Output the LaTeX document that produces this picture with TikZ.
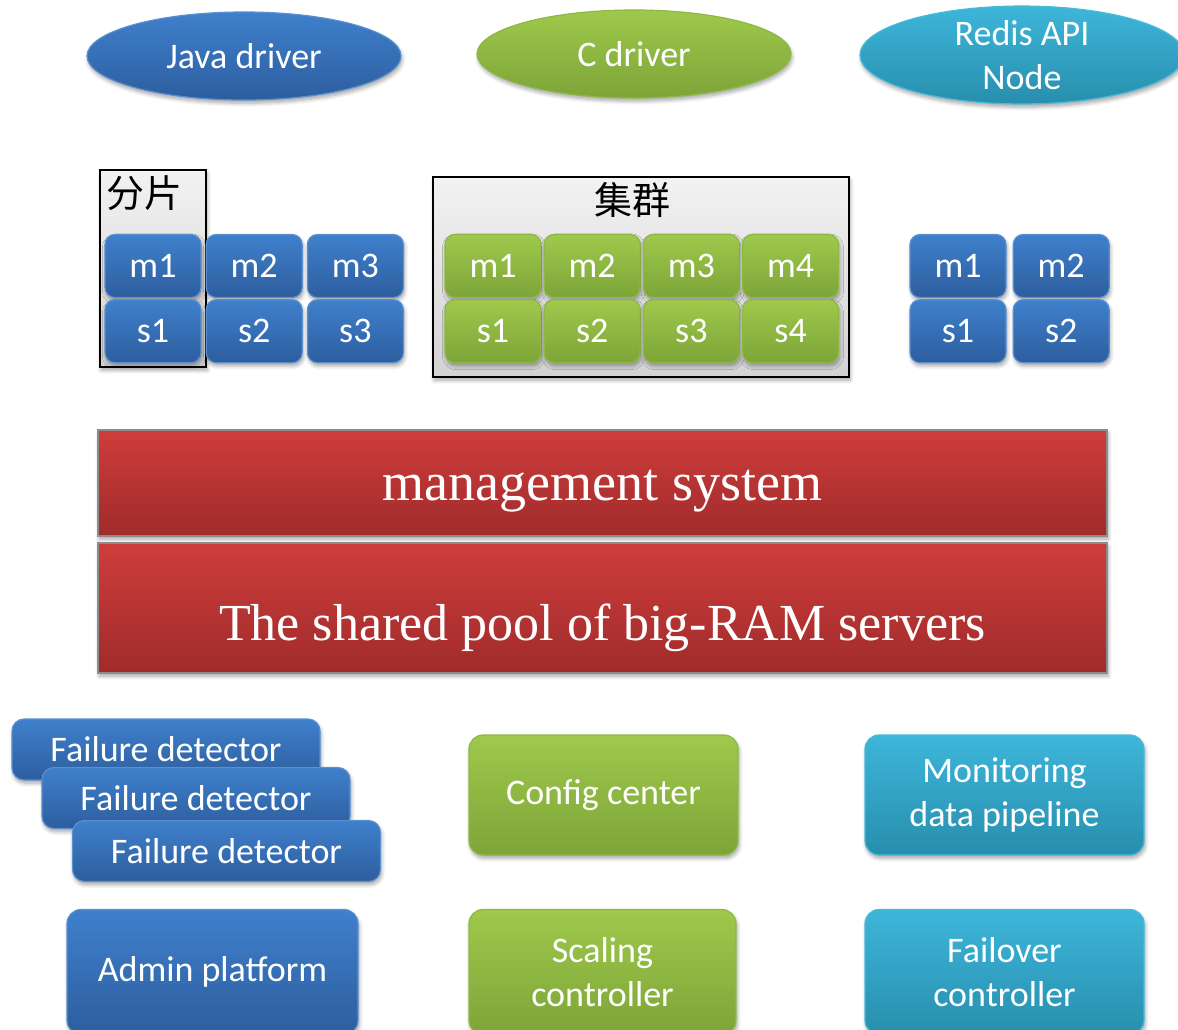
\documentclass[tikz,border=0pt]{standalone}
\usepackage{fontspec}
\setmainfont{Carlito}
\newfontfamily\cjkfont{Noto Sans CJK SC}
\newfontfamily\barfont{Liberation Serif}
\usepackage{tikz}
\usetikzlibrary{positioning,shapes.geometric,shadows.blur}

\definecolor{bluetop}{HTML}{3F80CC}
\definecolor{bluebot}{HTML}{2D5E9E}
\definecolor{blueline}{HTML}{5A8FD0}
\definecolor{greentop}{HTML}{9FC94C}
\definecolor{greenbot}{HTML}{7DA438}
\definecolor{greenline}{HTML}{8EB846}
\definecolor{tealtop}{HTML}{3DB6DA}
\definecolor{tealbot}{HTML}{288EAD}
\definecolor{tealline}{HTML}{4BB9D9}
\definecolor{redtop}{HTML}{CE3D3B}
\definecolor{redbot}{HTML}{A02B2B}
\definecolor{frametop}{HTML}{F2F2F2}
\definecolor{framebot}{HTML}{D2D2D2}

\begin{document}
\begin{tikzpicture}[
  x=0.5pt, y=-0.5pt,
  font=\fontsize{18}{22}\selectfont,
  soft/.style={blur shadow={shadow xshift=0.6pt, shadow yshift=-1.6pt, shadow blur steps=6, shadow opacity=35}},
  bluefill/.style={top color=bluetop, bottom color=bluebot, draw=blueline},
  greenfill/.style={top color=greentop, bottom color=greenbot, draw=greenline},
  tealfill/.style={top color=tealtop, bottom color=tealbot, draw=tealline},
  cell/.style={soft, rounded corners=5pt, minimum width=48pt, minimum height=31.5pt, inner sep=0pt, line width=0.6pt, text=white},
  drv/.style={soft, ellipse, minimum width=157pt, minimum height=44pt, inner sep=0pt, align=center, line width=0.6pt, text=white},
  panel/.style={soft, rounded corners=7pt, minimum height=60pt, inner sep=0pt, align=center, line width=0.6pt, text=white},
  bar/.style={soft, draw=gray!90, line width=0.8pt, top color=redtop, bottom color=redbot, minimum width=504.5pt, inner sep=0pt, text=white, font=\barfont},
  frame/.style={soft, draw=black, line width=1pt, top color=frametop, bottom color=framebot, inner sep=0pt},
  tag/.style={font=\fontsize{19}{22}\selectfont\cjkfont, text=black, inner sep=0pt}
]
\useasboundingbox (0,0) rectangle (1178,1029);

% client drivers
\node[drv, bluefill] (java) at (244,56) {Java driver};
\node[drv, greenfill] (cdrv) at (634,54) {C driver};
\node[drv, tealfill, minimum width=162pt] (redis) at (1022,55) {Redis API\\Node};

% shard frame and its master/slave cells
\node[frame, minimum width=53pt, minimum height=98.5pt] (shard) at (153,268.5) {};
\node[tag, anchor=north west] at ([xshift=3.5pt, yshift=-3pt]shard.north west) {分片};
\node[cell, bluefill] (am1) at (153,266) {m1};
\node[cell, bluefill, right=2pt of am1] (am2) {m2};
\node[cell, bluefill, right=2pt of am2] (am3) {m3};
\node[cell, bluefill, below=0.5pt of am1] (as1) {s1};
\node[cell, bluefill, below=0.5pt of am2] (as2) {s2};
\node[cell, bluefill, below=0.5pt of am3] (as3) {s3};

% cluster frame
\node[frame, minimum width=208pt, minimum height=100pt] (cluster) at (641,277) {};
\node[tag] at (632,200) {集群};
\node[cell, greenfill] (bm1) at (493,266) {m1};
\node[cell, greenfill, right=1pt of bm1] (bm2) {m2};
\node[cell, greenfill, right=1pt of bm2] (bm3) {m3};
\node[cell, greenfill, right=1pt of bm3] (bm4) {m4};
\node[cell, greenfill, below=0.5pt of bm1] (bs1) {s1};
\node[cell, greenfill, below=0.5pt of bm2] (bs2) {s2};
\node[cell, greenfill, below=0.5pt of bm3] (bs3) {s3};
\node[cell, greenfill, below=0.5pt of bm4] (bs4) {s4};

% loose pair on the right
\node[cell, bluefill] (cm1) at (958,266) {m1};
\node[cell, bluefill, right=3pt of cm1] (cm2) {m2};
\node[cell, bluefill, below=0.5pt of cm1] (cs1) {s1};
\node[cell, bluefill, below=0.5pt of cm2] (cs2) {s2};

% red layers
\node[bar, minimum height=53pt, font=\fontsize{27}{32}\selectfont\barfont] (mgmt) at (602.5,483) {\raisebox{-8.5pt}[0pt][0pt]{management system}};
\node[bar, minimum height=65pt, font=\fontsize{26}{30}\selectfont\barfont] (pool) at (602.5,608) {\raisebox{-16pt}[0pt][0pt]{The shared pool of big-RAM servers}};

% services
\node[cell, bluefill, rounded corners=6pt, minimum width=154pt, minimum height=30.5pt] (fd1) at (166,749.5) {Failure detector};
\node[cell, bluefill, rounded corners=6pt, minimum width=154pt, minimum height=30.5pt] (fd2) at (196,798) {Failure detector};
\node[cell, bluefill, rounded corners=6pt, minimum width=154pt, minimum height=30.5pt] (fd3) at (226.5,851) {Failure detector};
\node[panel, greenfill, minimum width=134.5pt] (config) at (603.5,795) {Config center};
\node[panel, tealfill, minimum width=139.5pt] (monitor) at (1004.5,795) {Monitoring\\data pipeline};
\node[panel, bluefill, minimum width=145.5pt, minimum height=62.5pt] (admin) at (212.5,972) {Admin platform};
\node[panel, greenfill, minimum width=133.5pt, minimum height=62.5pt] (scaling) at (602.5,972) {Scaling\\controller};
\node[panel, tealfill, minimum width=139.5pt, minimum height=62.5pt] (failover) at (1004.5,972) {Failover\\controller};
\end{tikzpicture}
\end{document}
